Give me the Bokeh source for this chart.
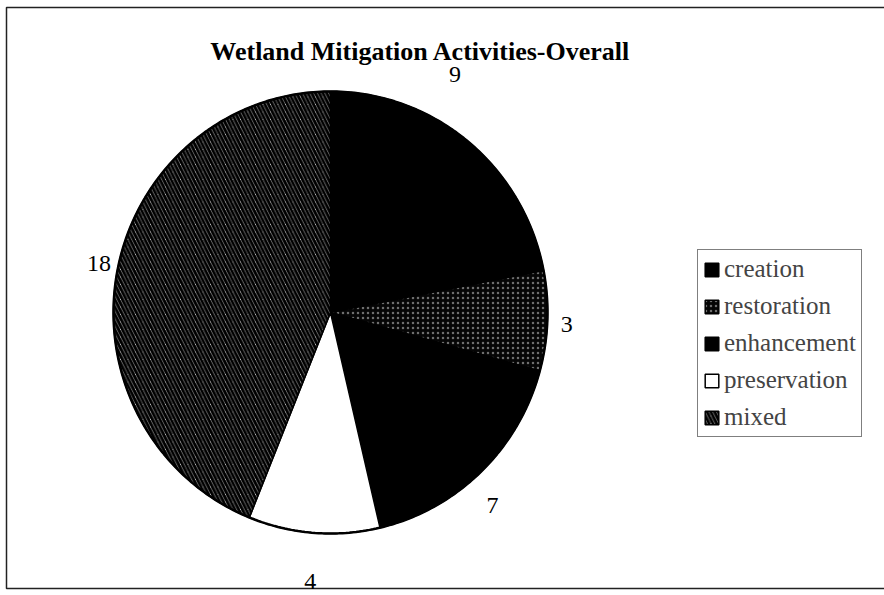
import numpy as np
from bokeh.plotting import figure
from bokeh.models import Range1d, Legend, LegendItem
from bokeh.core.properties import value
from bokeh.embed import file_html
from bokeh.resources import INLINE

title = "Wetland Mitigation Activities-Overall"
categories = ["creation", "restoration", "enhancement", "preservation", "mixed"]
counts = [9, 3, 7, 4, 18]

# styles per slice
fills = ["#000000", "#050505", "#000000", "#ffffff", "#ffffff"]
hatches = [None, "dot", None, None, "left_diagonal_line"]
hatch_colors = ["#000000", "#6e6e6e", "#000000", "#000000", "#000000"]
hatch_scales = [12, 5, 12, 12, 7.5]
hatch_weights = [1, 1.0, 1, 1, 3.0]

W, H = 884, 595
p = figure(width=W, height=H, output_backend="svg", toolbar_location=None,
           x_range=Range1d(0, W), y_range=Range1d(H, 0),
           min_border=0, outline_line_color=None)
p.axis.visible = False
p.grid.visible = False
p.background_fill_color = "white"
p.border_fill_color = "white"

# frame (top, left, bottom)
p.multi_line(xs=[[884, 6, 6, 884]], ys=[[7, 7, 588, 588]], line_color="#222222", line_width=1.5)

cx, cy, rx, ry = 330, 312, 217, 221
total = sum(counts)
cum = np.concatenate([[0], np.cumsum(counts)])
renderers = []
for i, cat in enumerate(categories):
    a0 = cum[i] / total * 2 * np.pi
    a1 = cum[i + 1] / total * 2 * np.pi
    t = np.linspace(a0, a1, 200)
    xs = [cx] + list(cx + rx * np.sin(t)) + [cx]
    ys = [cy] + list(cy - ry * np.cos(t)) + [cy]
    kw = dict(fill_color=fills[i], line_color="black", line_width=1.5)
    if hatches[i]:
        kw.update(hatch_pattern=hatches[i], hatch_color=hatch_colors[i],
                  hatch_scale=hatch_scales[i], hatch_weight=hatch_weights[i])
    r = p.patch(xs, ys, **kw)
    renderers.append(r)

# outer rim
t = np.linspace(0, 2 * np.pi, 400)
p.line(cx + rx * np.sin(t), cy - ry * np.cos(t), line_color="black", line_width=2.5)

# value labels (layout: angular position at slice middle, per-label offset radius)
label_r = [1.22, 1.09, 1.15, 1.22, 1.09]
label_da = [-0.20, 0.01, 0.06, 0.0, 0.015]
lx, ly = [], []
for i in range(len(counts)):
    am = (cum[i] + counts[i] / 2) / total * 2 * np.pi + label_da[i]
    lx.append(cx + rx * label_r[i] * np.sin(am))
    ly.append(cy - ry * label_r[i] * np.cos(am))
p.text(x=lx, y=ly, text=[str(c) for c in counts], text_font=value("Liberation Serif"),
       text_font_size="24px", text_align="center", text_baseline="middle", text_color="black")

p.text(x=[420], y=[51], text=[title], text_font=value("Liberation Serif"), text_font_style="bold",
       text_font_size="26px", text_align="center", text_baseline="middle", text_color="black")

legend = Legend(items=[LegendItem(label=c, renderers=[r]) for c, r in zip(categories, renderers)],
                location=(697, 158), label_text_font="Liberation Serif", label_text_font_size="25px",
                glyph_width=17, glyph_height=17, label_standoff=4, spacing=9, padding=5,
                margin=0, border_line_color="black", border_line_width=1.2,
                background_fill_alpha=1.0, label_height=20)
p.add_layout(legend)

open("out.html", "w").write(file_html(p, INLINE))
